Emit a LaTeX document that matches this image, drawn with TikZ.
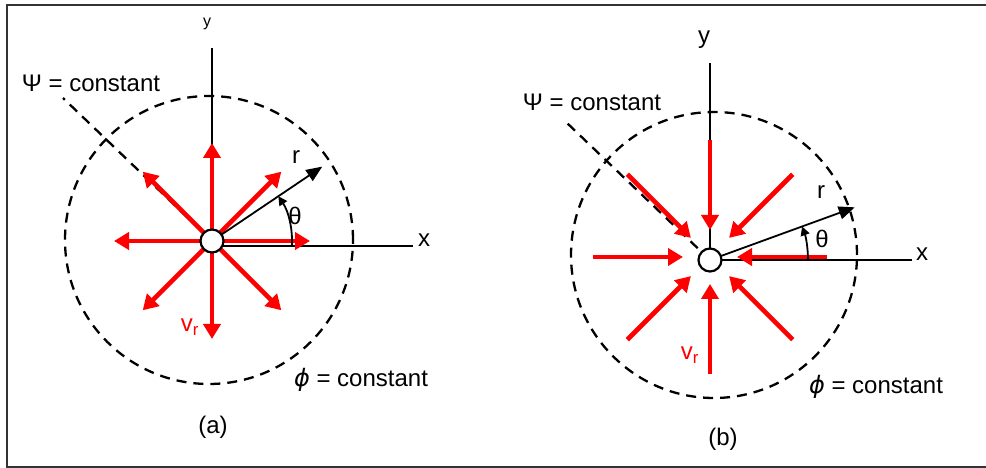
\documentclass[tikz,border=0pt]{standalone}
\usepackage{fontspec}
\setmainfont{Liberation Sans}
\newfontfamily\grkfont{DejaVu Sans}
\usetikzlibrary{calc}
\usetikzlibrary{arrows.meta}

\begin{document}
\begin{tikzpicture}[x=1pt,y=1pt,
    axis/.style={line width=2pt, black},
    flow/.style={line width=4.6pt, red, -{Triangle[width=17pt,length=15pt]}},
    radius arrow/.style={line width=1.8pt, -{Triangle[width=13pt,length=16pt]}},
    angle arrow/.style={line width=1.8pt, -{Triangle[width=9pt,length=9pt]}},
    potential/.style={line width=2.3pt, dash pattern=on 10pt off 7pt},
    hub/.style={circle, draw, fill=white, line width=2.2pt, minimum size=23pt, inner sep=0pt},
    lbl/.style={font=\fontsize{24}{28}\selectfont, inner sep=0pt}]
\useasboundingbox (0,0) rectangle (986,468);
\def\phisym{{\grkfont\itshape ϕ}}

\draw[line width=2.2pt, black!80] (986,463) -- (7,463) -- (7,1) -- (986,1);

\coordinate (Oa) at (212,227);
\coordinate (Ca) at (209,228);
\coordinate (ya) at (212,420);
\coordinate (xa) at (413,222);
\coordinate (psia) at (63,370);
\coordinate (ra) at ($(Oa)+(34:133)$);

\draw[potential] (Ca) circle[radius=144];
\draw[potential] (Oa) -- (psia);
\draw[axis] (Oa) -- (ya);
\draw[axis] (Oa |- xa) -- (xa);
\foreach \a in {0,45,...,315}
  \draw[flow] (Oa) -- ++(\a:98);
\draw[radius arrow] (Oa) -- (ra);
\draw[angle arrow] ($(Oa)+(-4:80)$) arc[start angle=-4, end angle=34, radius=80];
\node[hub] (ha) at (Oa) {};

\node[lbl, font=\fontsize{16}{18}\selectfont] (ylaba) at (207,444) {y};
\node[lbl] (xlaba) at (424,228) {x};
\node[lbl] (rlaba) at (296,311) {r};
\node[lbl] (tlaba) at (295,252) {θ};
\node[lbl, red] (vlaba) at (190,141) {v\textsubscript{r}};
\node[lbl] (psilaba) at (91,385) {Ψ = constant};
\node[lbl] (philaba) at (361,88) {\phisym\ = constant};
\node[lbl] (capa) at (213,41) {(a)};

\coordinate (Ob) at (710,208);
\coordinate (Cb) at (714,213);
\coordinate (Fb) at (710,211);
\coordinate (yb) at (710,405);
\coordinate (xb) at (912,208);
\coordinate (psib) at (567,345);
\coordinate (rb) at ($(Ob)+(20:154)$);

\draw[potential] (Cb) circle[radius=143];
\draw[potential] (Ob) -- (psib);
\draw[axis] (Ob) -- (yb);
\draw[axis] (Ob) -- (xb);
\foreach \a in {0,45,...,315}
  \draw[flow] ($(Fb)+(\a:117)$) -- ($(Fb)+(\a:27)$);
\draw[radius arrow] (Ob) -- (rb);
\draw[angle arrow] ($(Ob)+(0:98)$) arc[start angle=0, end angle=20, radius=98];
\node[hub] (hb) at (Ob) {};

\node[lbl] (ylabb) at (704,428) {y};
\node[lbl] (xlabb) at (922,214) {x};
\node[lbl] (rlabb) at (821,276) {r};
\node[lbl] (tlabb) at (822,229) {θ};
\node[lbl, red] (vlabb) at (690,113) {v\textsubscript{r}};
\node[lbl] (psilabb) at (592,366) {Ψ = constant};
\node[lbl] (philabb) at (876,81) {\phisym\ = constant};
\node[lbl] (capb) at (723,29) {(b)};
\end{tikzpicture}
\end{document}
